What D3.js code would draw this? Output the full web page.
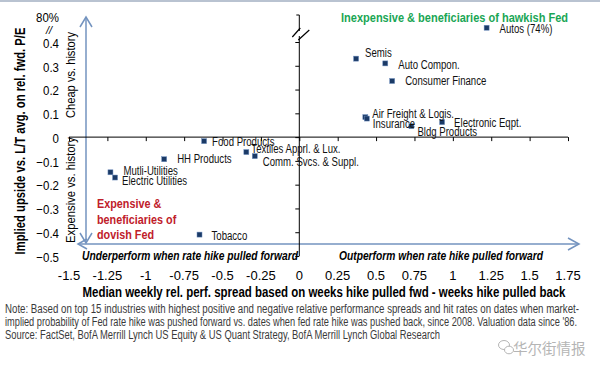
<!DOCTYPE html>
<html><head><meta charset="utf-8">
<script src="https://cdn.jsdelivr.net/npm/d3@7"></script>
<style>
body{margin:0;background:#fff;}
svg{display:block;}
</style></head>
<body>
<svg id="c" width="600" height="366"></svg>
<script>
// ---- data ----
const categories = ["Autos (74%)","Semis","Auto Compon.","Consumer Finance","Air Freight & Logis.","Insurance","Bldg Products","Electronic Eqpt.","Food Products","HH Products","Textiles Apprl. & Lux.","Comm. Svcs. & Suppl.","Mutli-Utilities","Electric Utilities","Tobacco"];
const perfSpread = [1.22,0.37,0.56,0.605,0.43,0.44,0.73,0.93,-0.62,-0.88,-0.345,-0.29,-1.23,-1.2,-0.65];
// Autos is 0.74 (74%), drawn above the axis break at 0.46
const impliedUpside = [0.46,0.33,0.31,0.236,0.084,0.078,0.046,0.063,-0.017,-0.093,-0.063,-0.08,-0.148,-0.17,-0.41];
const xTicks = [-1.5,-1.25,-1,-0.75,-0.5,-0.25,0,0.25,0.5,0.75,1,1.25,1.5,1.75];
const yTicks = [-0.5,-0.4,-0.3,-0.2,-0.1,0,0.1,0.2,0.3,0.4];
const noteLines = [
 "Note: Based on top 15 industries with highest positive and negative relative performance spreads and hit rates on dates when market-",
 "implied probability of Fed rate hike was pushed forward vs. dates when fed rate hike was pushed back, since 2008. Valuation data since '86.",
 "Source: FactSet, BofA Merrill Lynch US Equity & US Quant Strategy, BofA Merrill Lynch Global Research"
];

// label layout (dx, dy from point)
const labelOffsets = [[13,1],[9,-6],[13,1],[13,0],[7,-3],[6,5],[6,6],[12,1],[8,1],[13,0],[5,-3],[8,6],[13,-2],[7,3],[12,1]];

const svg = d3.select("#c");
const FONT = "'Liberation Sans',Arial,sans-serif";
const x = d3.scaleLinear().domain([-1.5,1.75]).range([69,568]);
const y = d3.scaleLinear().domain([-0.5,0.4]).range([256,42]);

// narrow-font look: squeeze glyphs horizontally
function condense(sel, f){
  sel.each(function(){
    const w = this.getComputedTextLength();
    d3.select(this).attr("textLength", w*f).attr("lengthAdjust","spacingAndGlyphs");
  });
  return sel;
}
function fit(sel, w){ return sel.attr("textLength", w).attr("lengthAdjust","spacingAndGlyphs"); }

// top border
svg.append("rect").attr("x",0).attr("y",0).attr("width",600).attr("height",2).attr("fill","#b9c3d1");

// blue double arrows
const blue = "#7393bf";
const g = svg.append("g").attr("stroke",blue).attr("stroke-width",1.5).attr("fill","none");
const ax = 86, ayTop = 17, ayBot = 243, hy = 244, hxL = 78, hxR = 579;
g.append("line").attr("x1",ax).attr("y1",ayTop).attr("x2",ax).attr("y2",ayBot);
g.append("path").attr("d",`M${ax-6},${ayTop+10}L${ax},${ayTop}L${ax+6},${ayTop+10}`);
g.append("path").attr("d",`M${ax-6},${ayBot-10}L${ax},${ayBot}L${ax+6},${ayBot-10}`);
g.append("line").attr("x1",hxL).attr("y1",hy).attr("x2",hxR).attr("y2",hy);
g.append("path").attr("d",`M${hxR-11},${hy-6}L${hxR},${hy}L${hxR-11},${hy+6}`);
g.append("path").attr("d",`M${hxL+9},${hy-5}L${hxL},${hy}L${hxL+9},${hy+5}`);

// x axis at y=0
const xAxis = d3.axisBottom(x).tickValues(xTicks).tickSize(4).tickFormat("");
const xg = svg.append("g").attr("transform",`translate(0,${y(0)})`).call(xAxis);
xg.select(".domain").attr("stroke","#000").attr("d",`M${x(-1.5)},0H${x(1.75)}`);
xg.selectAll(".tick line").attr("stroke","#000");

// y axis at x=0
const yAxis = d3.axisLeft(y).tickValues(yTicks).tickSize(4).tickFormat("");
const yg = svg.append("g").attr("transform",`translate(${x(0)},0)`).call(yAxis);
yg.select(".domain").attr("stroke","#000").attr("d",`M-3,15H0V${y(-0.5)}`);
yg.selectAll(".tick line").attr("stroke","#000");
// axis break
svg.append("rect").attr("x",x(0)-2).attr("y",31).attr("width",4).attr("height",5).attr("fill","#fff");
svg.append("path").attr("d",`M${x(0)-7},37L${x(0)+1},28M${x(0)-1},40L${x(0)+10},30`).attr("stroke","#000").attr("stroke-width",1.2).attr("fill","none");

// y tick labels
condense(svg.append("g").selectAll("text").data(yTicks).join("text")
 .attr("x",59).attr("y",d=>y(d)+1).attr("dy","0.35em").attr("text-anchor","end")
 .attr("font-family",FONT).attr("font-size",13.5).attr("fill","#000")
 .text(d=>d===0?"0":d3.format(".1f")(d)), 0.85);
condense(svg.append("text").attr("x",59).attr("y",y(0.4)-25).attr("dy","0.35em").attr("text-anchor","end")
 .attr("font-family",FONT).attr("font-size",13.5).text("80%"), 0.85);
svg.append("text").attr("x",52).attr("y",y(0.4)-12).attr("dy","0.35em").attr("text-anchor","end")
 .attr("font-family",FONT).attr("font-size",11).attr("font-style","italic").text("//");

// x tick labels
svg.append("g").selectAll("text").data(xTicks).join("text")
 .attr("x",d=>x(d)).attr("y",275).attr("dy","0.35em").attr("text-anchor","middle")
 .attr("font-family",FONT).attr("font-size",13).attr("fill","#000")
 .text(d=>String(d));

// points
svg.append("g").selectAll("rect").data(categories).join("rect")
 .attr("x",(d,i)=>x(perfSpread[i])-2.5).attr("y",(d,i)=>y(impliedUpside[i])-2.5)
 .attr("width",5).attr("height",5).attr("fill","#1b3a66").attr("stroke","#6f8fc0").attr("stroke-width",0.5);

// point labels
condense(svg.append("g").selectAll("text").data(categories).join("text")
 .attr("x",(d,i)=>x(perfSpread[i])+labelOffsets[i][0]).attr("y",(d,i)=>y(impliedUpside[i])+labelOffsets[i][1])
 .attr("dy","0.35em").attr("font-family",FONT).attr("font-size",12).attr("fill","#111")
 .text(d=>d), 0.8);

// quadrant annotations
fit(svg.append("text").attr("x",454.5).attr("y",17).attr("dy","0.35em").attr("text-anchor","middle")
 .attr("font-family",FONT).attr("font-size",13.5).attr("font-weight","bold").attr("fill","#1aa655")
 .text("Inexpensive & beneficiaries of hawkish Fed"), 227);
const redLines = ["Expensive &","beneficiaries of","dovish Fed"];
condense(svg.append("g").selectAll("text").data(redLines).join("text")
 .attr("x",97).attr("y",(d,i)=>208+i*15.5)
 .attr("font-family",FONT).attr("font-size",13.5).attr("font-weight","bold").attr("fill","#c0202a")
 .text(d=>d), 0.8);

fit(svg.append("text").attr("x",190).attr("y",255).attr("dy","0.35em").attr("text-anchor","middle")
 .attr("font-family",FONT).attr("font-size",13).attr("font-weight","bold").attr("font-style","italic")
 .text("Underperform when rate hike pulled forward"), 216);
fit(svg.append("text").attr("x",441).attr("y",255).attr("dy","0.35em").attr("text-anchor","middle")
 .attr("font-family",FONT).attr("font-size",13).attr("font-weight","bold").attr("font-style","italic")
 .text("Outperform when rate hike pulled forward"), 204);

// axis titles
fit(svg.append("text").attr("x",324).attr("y",292).attr("dy","0.35em").attr("text-anchor","middle")
 .attr("font-family",FONT).attr("font-size",14).attr("font-weight","bold")
 .text("Median weekly rel. perf. spread based on weeks hike pulled fwd - weeks hike pulled back"), 483);
fit(svg.append("text").attr("transform","translate(20,141) rotate(-90)").attr("dy","0.35em").attr("text-anchor","middle")
 .attr("font-family",FONT).attr("font-size",14).attr("font-weight","bold")
 .text("Implied upside vs. L/T avg. on rel. fwd. P/E"), 227);
fit(svg.append("text").attr("transform","translate(70.5,75) rotate(-90)").attr("dy","0.35em").attr("text-anchor","middle")
 .attr("font-family",FONT).attr("font-size",13)
 .text("Cheap vs. history"), 86);
fit(svg.append("text").attr("transform","translate(70.5,190) rotate(-90)").attr("dy","0.35em").attr("text-anchor","middle")
 .attr("font-family",FONT).attr("font-size",13)
 .text("Expensive vs. history"), 106);

// note
const noteW = [574, 572, 435];
svg.append("g").selectAll("text").data(noteLines).join("text")
 .attr("x",5).attr("y",(d,i)=>313+i*13).attr("font-family",FONT).attr("font-size",12).attr("fill","#3a3a3a")
 .attr("textLength",(d,i)=>noteW[i]).attr("lengthAdjust","spacingAndGlyphs")
 .text(d=>d);

// watermark
const wm = svg.append("g").attr("fill","#fff").attr("stroke","#b5b5b5").attr("stroke-width",1);
wm.append("ellipse").attr("cx",504).attr("cy",345).attr("rx",5.5).attr("ry",4.5);
wm.append("ellipse").attr("cx",509).attr("cy",350).attr("rx",4.5).attr("ry",3.8);
svg.append("text").attr("x",513).attr("y",354).attr("font-family","'Noto Sans CJK SC',sans-serif").attr("font-size",14.5).attr("fill","#b5b5b5").text("华尔街情报");
</script>
</body></html>
